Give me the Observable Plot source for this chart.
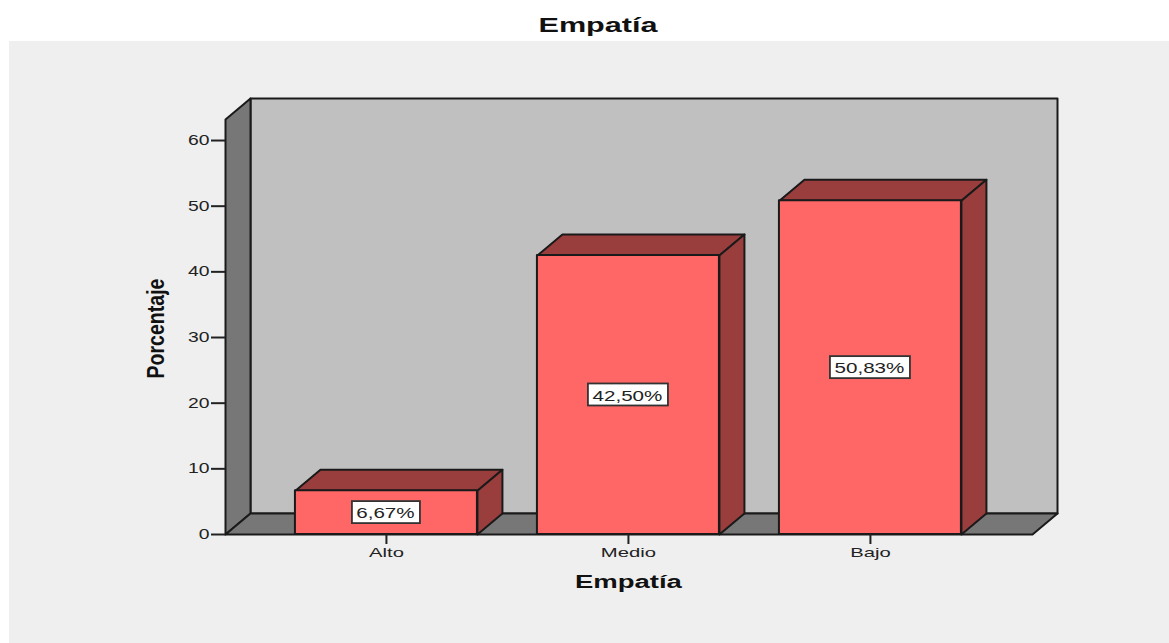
<!DOCTYPE html>
<html><head><meta charset="utf-8">
<script src="https://cdn.jsdelivr.net/npm/d3@7"></script>
<script src="https://cdn.jsdelivr.net/npm/@observablehq/plot@0.6"></script>
<style>
html,body{margin:0;padding:0;background:#fff;overflow:hidden}
#title{position:absolute;left:597.5px;top:11px;transform:translateX(-50%) scaleX(1.53);font:bold 20px/28px "Liberation Sans",Arial,sans-serif;color:#111;white-space:nowrap}
#panel{position:absolute;left:9px;top:41px;width:1160px;height:602px;background:#efefef}
svg{display:block}
</style></head><body>
<div id="title">Empatía</div>
<div id="panel"></div>
<script>
const categories = ["Alto", "Medio", "Bajo"];
const values = [6.67, 42.5, 50.83];
const valueLabels = ["6,67%", "42,50%", "50,83%"];
const yTicks = [0, 10, 20, 30, 40, 50, 60];
const chartTitle = "Empatía";
const yTitle = "Porcentaje";

const xDomain = [-0.665, 2.773], yDomain = [0, 66.4];
const width = 1160, height = 602;
const margin = {left: 216, right: 112, top: 57, bottom: 109};
const pxX = (width - margin.left - margin.right) / (xDomain[1] - xDomain[0]);
const pxY = (height - margin.top - margin.bottom) / (yDomain[1] - yDomain[0]);
const depthX = 25 / pxX, depthY = 21 / pxY, halfBar = 91 / pxX;

const poly = (id, pts) => pts.map(([x, y]) => ({id, x, y}));
const [x0, x1] = [xDomain[0], xDomain[1] - depthX];
const yTop = yDomain[1] - depthY;
const back = poly("back", [[x0+depthX,depthY],[x1+depthX,depthY],[x1+depthX,yDomain[1]],[x0+depthX,yDomain[1]]]);
const shell = [
  ...poly("wall", [[x0,0],[x0+depthX,depthY],[x0+depthX,yDomain[1]],[x0,yTop]]),
  ...poly("floor", [[x0,0],[x1,0],[x1+depthX,depthY],[x0+depthX,depthY]])
];
const tops = values.flatMap((v, i) => poly("t"+i, [[i-halfBar,v],[i+halfBar,v],[i+halfBar+depthX,v+depthY],[i-halfBar+depthX,v+depthY]]));
const sides = values.flatMap((v, i) => poly("s"+i, [[i+halfBar,0],[i+halfBar+depthX,depthY],[i+halfBar+depthX,v+depthY],[i+halfBar,v]]));
const bars = values.map((v, i) => ({i, v}));
const boxes = valueLabels.map((t, i) => {
  const hw = (t.length * 12 + 8) / 2 / pxX, hh = 11 / pxY;
  return {x1: i-hw, x2: i+hw, y1: values[i]/2-hh, y2: values[i]/2+hh, t, i, v: values[i]/2};
});
const line = {stroke: "#1a1a1a", strokeWidth: 2, strokeLinejoin: "round"};
const face = (d, fill) => Plot.line(d, {x: "x", y: "y", z: "id", curve: "linear-closed", fill, ...line});

const chart = Plot.plot({
  width, height,
  marginLeft: margin.left, marginRight: margin.right, marginTop: margin.top, marginBottom: margin.bottom,
  style: {background: "transparent", color: "#222", fontFamily: "'Liberation Sans',Arial,sans-serif"},
  x: {domain: xDomain}, y: {domain: yDomain},
  marks: [
    face(back, "#c0c0c0"),
    face(shell, "#777777"),
    face(tops, "#993d3d"),
    face(sides, "#993d3d"),
    Plot.rect(bars, {x1: d => d.i-halfBar, x2: d => d.i+halfBar, y1: 0, y2: "v", fill: "#ff6666", ...line}),
    Plot.rect(boxes, {x1: "x1", x2: "x2", y1: "y1", y2: "y2", fill: "#fff", stroke: "#333", strokeWidth: 1.8}),
    Plot.text(boxes, {x: "i", y: "v", text: "t", fontSize: 14.5, dx: -1, dy: 1, fill: "#222", className: "vlabel"}),
    Plot.axisY({ticks: yTicks, tickSize: 14, tickPadding: 2, label: null, fontSize: 14, strokeWidth: 2, stroke: "#222", className: "ticky"}),
    Plot.axisX({ticks: [0,1,2], tickFormat: i => categories[i], tickSize: 10, tickPadding: 3, label: null, fontSize: 13.5, strokeWidth: 2, stroke: "#222", className: "tickx"}),
    Plot.text([chartTitle], {x: () => 1, frameAnchor: "bottom", dy: 53, text: d => d, fontSize: 18, fontWeight: "bold", fill: "#111", className: "xtitle"}),
    Plot.text([yTitle], {frameAnchor: "left", textAnchor: "middle", dx: -69, dy: 12, rotate: -90, text: d => d, fontSize: 24, fontWeight: "bold", fill: "#111", className: "ytitle"})
  ]
});
document.getElementById("panel").appendChild(chart);

const fit = (sel, target) => chart.querySelectorAll(sel).forEach(t => {
  const n = t.getComputedTextLength();
  t.setAttribute("textLength", target(n, t));
  t.setAttribute("lengthAdjust", "spacingAndGlyphs");
});
fit(".vlabel text", n => n * 1.42);
fit(".ticky text", n => n * 1.38);
fit(".tickx text", n => n * 1.5);
fit(".xtitle text", () => 107);
fit(".ytitle text", () => 100);
</script>
</body></html>
